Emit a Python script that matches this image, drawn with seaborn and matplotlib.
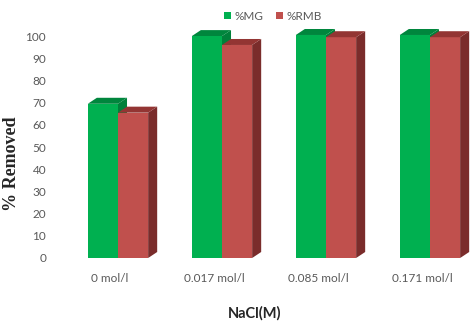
import seaborn as sns
import matplotlib.pyplot as plt
import pandas as pd
from matplotlib.patches import Polygon
from matplotlib.transforms import ScaledTranslation

# data
concentrations = ["0 mol/l", "0.017 mol/l", "0.085 mol/l", "0.171 mol/l"]
mg_removed = [69.5, 100, 100.5, 100.5]
rmb_removed = [65.5, 96, 99.5, 99.5]

df = pd.DataFrame({"NaCl": concentrations, "%MG": mg_removed, "%RMB": rmb_removed})
long_df = df.melt(id_vars="NaCl", var_name="dye", value_name="removed")

front = {"%MG": "#00B050", "%RMB": "#C0504D"}
side = {"%MG": "#00803A", "%RMB": "#7A2C2B"}
top = {"%MG": "#00863D", "%RMB": "#933533"}

sns.set_style("white")
fig = plt.figure(figsize=(4.74, 3.24), dpi=100)
ax = fig.add_axes([51 / 474, 1 - 258 / 324, (470 - 51) / 474, (258 - 25) / 324])

sns.barplot(data=long_df, x="NaCl", y="removed", hue="dye", palette=front,
            width=0.58, saturation=1, linewidth=0, ax=ax, legend=True)

ax.set_xlim(-0.644, 3.385)
ax.set_ylim(0, 105)
ax.set_yticks(range(0, 101, 10))

# 3D look: side and top faces for each bar
dx, dy = 0.087, 2.7
for container, dye in zip(ax.containers, ["%MG", "%RMB"]):
    zo = 2 if dye == "%MG" else 4
    for bar in container:
        x0, w, h = bar.get_x(), bar.get_width(), bar.get_height()
        bar.set_linewidth(0)
        bar.set_zorder(zo + 1 if dye == "%MG" else 3)
        ax.add_patch(Polygon([(x0 + w, 0), (x0 + w + dx, dy), (x0 + w + dx, h + dy), (x0 + w, h)],
                             closed=True, color=side[dye], lw=0, zorder=zo, clip_on=False))
        ax.add_patch(Polygon([(x0, h), (x0 + w, h), (x0 + w + dx, h + dy), (x0 + dx, h + dy)],
                             closed=True, color=top[dye], lw=0, zorder=zo, clip_on=False))

sns.despine(ax=ax, left=True, bottom=True)
ax.tick_params(length=0, colors="#595959", labelsize=8.5)
ax.tick_params(axis="x", pad=11)
for lab in ax.get_xticklabels() + ax.get_yticklabels():
    lab.set_family("Lato")
for lab in ax.get_xticklabels():
    lab.set_transform(lab.get_transform() + ScaledTranslation(-8 / 100, 0, fig.dpi_scale_trans))

ax.set_ylabel("% Removed", family="Liberation Serif", fontweight="bold", fontsize=13, va="center")
ax.yaxis.set_label_coords(-(51 - 12) / 419, (258 - 164) / 233)
ax.set_xlabel("NaCl(M)", family="Lato", fontweight="bold", fontsize=10.5, va="center")
ax.xaxis.set_label_coords((255 - 51) / 419, -(313 - 258) / 233)

ax.legend(loc="upper center", bbox_to_anchor=((273 - 51) / 419, 1 + 25 / 233),
          ncol=2, frameon=False, handlelength=0.6, handleheight=0.6, handletextpad=0.3,
          columnspacing=1.0, prop={"family": "Lato", "size": 8.5}, labelcolor="#595959")

fig.savefig("out.png", dpi=100)
